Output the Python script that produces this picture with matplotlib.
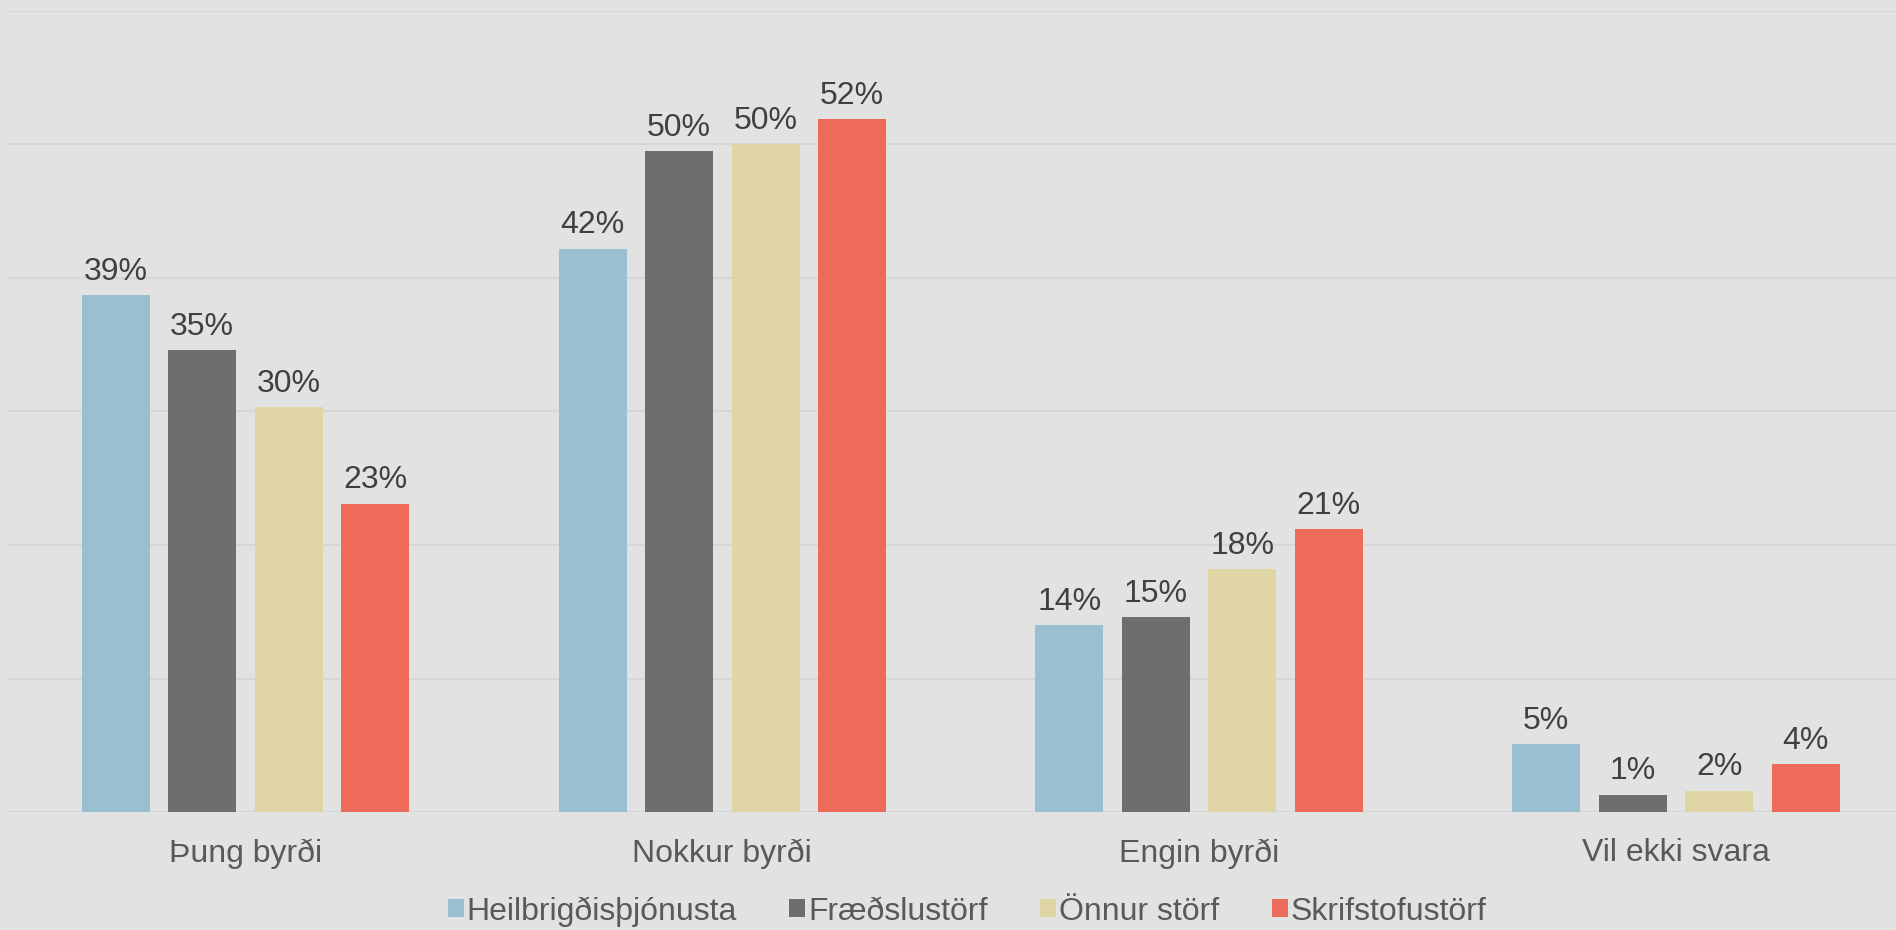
import matplotlib
matplotlib.use("Agg")
import matplotlib.pyplot as plt
import numpy as np
from matplotlib.patches import Patch

plt.rcParams['font.family'] = ['Liberation Sans', 'DejaVu Sans']

categories = ["Þung byrði", "Nokkur byrði", "Engin byrði", "Vil ekki svara"]
series = ["Heilbrigðisþjónusta", "Fræðslustörf", "Önnur störf", "Skrifstofustörf"]
heilbrigdis = [38.7, 42.2, 14.0, 5.1]
fraedslu = [34.6, 49.5, 14.6, 1.3]
onnur = [30.3, 50.0, 18.2, 1.6]
skrifstofu = [23.1, 51.9, 21.2, 3.6]
colors = ["#98c0d0", "#6e6e6e", "#dfd5a5", "#ee6a5b"]
bg = "#e2e2e2"

values = [heilbrigdis, fraedslu, onnur, skrifstofu]

fig = plt.figure(figsize=(18.96, 9.30), dpi=100)
fig.patch.set_facecolor(bg)
ax = fig.add_axes([8/1896, 118/930, 1 - 8/1896, (812-11)/930])
ax.set_facecolor(bg)

FS = 23
x = np.arange(len(categories))
step = 0.1814
width = 0.1426
for i, (vals, col) in enumerate(zip(values, colors)):
    pos = x + (i - 1.5) * step
    bars = ax.bar(pos, vals, width=width, color=col, zorder=3)
    for b, v in zip(bars, vals):
        ax.annotate(f"{v:.0f}%", (b.get_x() + b.get_width()/2, v),
                    xytext=(0, 6), textcoords="offset points",
                    ha="center", va="bottom", fontsize=FS, color="#404040")

ax.set_xlim(-0.498, 3.4615)
ax.set_ylim(0, 60)
ax.set_yticks(np.arange(0, 61, 10))
ax.yaxis.grid(True, color="#d6d6d6", linewidth=1.5, zorder=0)
ax.tick_params(axis="y", left=False, labelleft=False)
ax.set_xticks(x)
ax.set_xticklabels(categories, fontsize=FS, color="#595959")
ax.tick_params(axis="x", length=0, pad=19)
for s in ax.spines.values():
    s.set_visible(False)

handles = [Patch(facecolor=c, label=s) for c, s in zip(colors, series)]
leg = fig.legend(handles=handles, loc="center", bbox_to_anchor=(0.510, 0.020),
                 ncol=4, frameon=False, fontsize=FS, handlelength=0.5,
                 handleheight=0.5, handletextpad=0.08, columnspacing=1.65,
                 borderaxespad=0, borderpad=0)
for t in leg.get_texts():
    t.set_color("#595959")

fig.savefig("out.png", dpi=100, facecolor=bg)
